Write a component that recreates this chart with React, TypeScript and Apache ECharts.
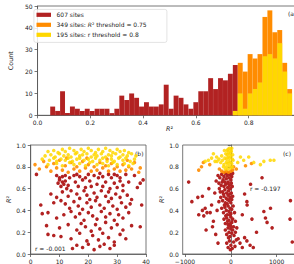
import React, { useEffect, useRef } from "react";
import * as echarts from "echarts";

// ---------- Data ----------
const histBinStart = 0.048;
const histBinWidth = 0.0187;
// all 607 sites, bins 0..37
const allSitesCounts = [4, 2, 11, 1, 4, 3, 2, 3, 2, 3, 3, 3, 1, 3, 9, 7, 10, 8, 4, 6, 4, 4, 5, 14, 3, 9, 8, 5, 3, 6, 11, 11, 17, 12, 17, 16, 19, 23];
// 349 sites (R2 > 0.75), starting at bin 38
const r2FirstBin = 38;
const r2ThresholdCounts = [24, 20, 28, 26, 28, 45, 48, 38, 39, 24, 12];
// 195 sites (r > 0.8), starting at bin 37
const rFirstBin = 37;
const rThresholdCounts = [2, 10, 3, 10, 12, 15, 27, 28, 26, 33, 20, 10];

const histXTicks = [0, 0.2, 0.4, 0.6, 0.8];
const countTicks = [0, 10, 20, 30, 40, 50];

// panel (b): x variable vs R2
const bRed: number[][] = [
  [2, 0.73], [9, 0.72], [10, 0.7], [11, 0.71], [12, 0.72], [13.5, 0.7], [15, 0.72], [16, 0.73], [17, 0.71], [19, 0.7], [20, 0.73], [22, 0.72], [23.5, 0.7], [24, 0.74], [25, 0.71], [27, 0.73], [28, 0.7], [29, 0.73], [30, 0.72], [31, 0.7], [33, 0.73], [36, 0.72], [39, 0.68],
  [9.5, 0.65], [10, 0.68], [10.5, 0.62], [11, 0.66], [11.5, 0.64], [12, 0.67], [12.5, 0.6], [13, 0.63], [15.5, 0.66], [16.5, 0.62], [18, 0.68], [19, 0.61], [20.5, 0.67], [21, 0.62], [23, 0.64], [25, 0.62], [26, 0.66], [27.5, 0.6], [29, 0.65], [30, 0.61], [31, 0.67], [32, 0.63], [34, 0.66], [37, 0.61], [38, 0.65],
  [7, 0.55], [9, 0.52], [11, 0.57], [13, 0.53], [14, 0.58], [16, 0.55], [17, 0.51], [18.5, 0.58], [19.5, 0.54], [20.5, 0.5], [22, 0.56], [23, 0.52], [24.5, 0.58], [26, 0.53], [27, 0.57], [28, 0.51], [29.5, 0.55], [31, 0.52], [32, 0.58], [33.5, 0.54], [35, 0.5],
  [3.5, 0.45], [8, 0.47], [10.5, 0.49], [12, 0.46], [13.5, 0.42], [15, 0.48], [16.5, 0.44], [18, 0.41], [19.5, 0.47], [21, 0.43], [22.5, 0.49], [24, 0.45], [25.5, 0.42], [27, 0.48], [28.5, 0.44], [30, 0.41], [31.5, 0.47], [33, 0.43], [34.5, 0.46], [38.5, 0.45],
  [4, 0.37], [6, 0.38], [9, 0.33], [11.5, 0.36], [14, 0.39], [15.5, 0.34], [17, 0.37], [18.5, 0.31], [20, 0.38], [21.5, 0.35], [23, 0.32], [24.5, 0.39], [26, 0.34], [27.5, 0.37], [29, 0.31], [30.5, 0.36], [32, 0.33], [34, 0.38],
  [5.5, 0.26], [10, 0.24], [13, 0.27], [16, 0.22], [17.5, 0.28], [19, 0.25], [21, 0.21], [22.5, 0.27], [24, 0.23], [26, 0.29], [28, 0.24], [30, 0.27], [32, 0.22], [35, 0.26], [38, 0.25],
  [6, 0.18], [8, 0.17], [10.5, 0.16], [14, 0.14], [17, 0.19], [19.5, 0.12], [21.5, 0.17], [23.5, 0.13], [25, 0.19], [27, 0.15], [29, 0.11], [31, 0.18], [33, 0.14],
  [14.5, 0.05], [16, 0.08], [18, 0.06], [20, 0.09], [22, 0.04], [24, 0.07], [25.5, 0.09], [27.5, 0.05], [29, 0.08],
];
const bOrange: number[][] = [
  [1.5, 0.82], [3, 0.78], [4.5, 0.85], [5.5, 0.8], [7, 0.76], [8, 0.83], [9, 0.79], [10, 0.86], [11, 0.77], [12, 0.81], [13, 0.75], [14, 0.84], [15, 0.78], [16, 0.8], [17, 0.76], [18, 0.85], [19, 0.79], [20, 0.82], [21, 0.76], [22, 0.8], [23, 0.77], [24, 0.84], [25, 0.79], [26, 0.81], [27, 0.76], [28, 0.83], [29, 0.78], [30, 0.8], [31, 0.76], [32, 0.82], [33, 0.77], [34, 0.8], [35, 0.78], [36, 0.84], [37.5, 0.75], [38, 0.79], [12.5, 0.88], [19.5, 0.88], [26.5, 0.87], [33.5, 0.86],
];
const bYellow: number[][] = [
  [6, 0.94], [8, 0.95], [9.5, 0.93], [11, 0.96], [12, 0.94], [13.5, 0.97], [15, 0.95], [16, 0.93], [17.5, 0.96], [18.5, 0.94], [20, 0.97], [21, 0.95], [22.5, 0.93], [23.5, 0.96], [25, 0.94], [26, 0.97], [27.5, 0.95], [28.5, 0.93], [30, 0.96], [31, 0.94], [32.5, 0.95], [34, 0.93],
  [5, 0.9], [7, 0.91], [8.5, 0.89], [10, 0.92], [11.5, 0.9], [13, 0.91], [14, 0.89], [15.5, 0.92], [17, 0.9], [18, 0.91], [19.5, 0.92], [21, 0.89], [22, 0.91], [23, 0.9], [24.5, 0.92], [26, 0.89], [27, 0.91], [28, 0.9], [29.5, 0.92], [31, 0.89], [32, 0.91], [33.5, 0.9], [35, 0.92], [36.5, 0.9],
  [4, 0.87], [6.5, 0.86], [8, 0.88], [9, 0.85], [10.5, 0.87], [12, 0.86], [13, 0.88], [14.5, 0.85], [16, 0.87], [17, 0.88], [18.5, 0.86], [20, 0.87], [21.5, 0.85], [22.5, 0.88], [24, 0.86], [25, 0.88], [26.5, 0.85], [28, 0.87], [29, 0.85], [30.5, 0.88], [32, 0.86], [33, 0.88], [34.5, 0.85], [36, 0.87],
  [6, 0.82], [9, 0.83], [11, 0.81], [13.5, 0.84], [15, 0.82], [17, 0.83], [19, 0.81], [20.5, 0.84], [23, 0.82], [25, 0.83], [27, 0.81], [28.5, 0.84], [30, 0.82], [32.5, 0.83], [34, 0.81], [35.5, 0.83],
];

// panel (c)
const cRed: number[][] = [
  [-280, 0.72], [-240, 0.7], [-200, 0.73], [-170, 0.68], [-150, 0.71], [-120, 0.74], [-100, 0.69], [-80, 0.72], [-60, 0.66], [-40, 0.7], [-20, 0.73], [0, 0.68], [20, 0.71], [40, 0.74], [-320, 0.67], [-260, 0.65], [-130, 0.66], [-50, 0.74], [10, 0.65], [-190, 0.66],
  [-250, 0.6], [-210, 0.63], [-180, 0.57], [-150, 0.62], [-130, 0.59], [-110, 0.64], [-90, 0.56], [-70, 0.61], [-50, 0.58], [-30, 0.63], [-10, 0.6], [10, 0.56], [30, 0.62], [-160, 0.55], [-60, 0.65], [-230, 0.57], [-20, 0.55],
  [-220, 0.52], [-180, 0.49], [-150, 0.53], [-120, 0.47], [-100, 0.51], [-80, 0.46], [-60, 0.54], [-40, 0.49], [-20, 0.52], [0, 0.47], [20, 0.5], [-140, 0.45], [-70, 0.5], [40, 0.53], [-260, 0.48],
  [-200, 0.42], [-160, 0.38], [-130, 0.43], [-100, 0.4], [-80, 0.36], [-60, 0.44], [-40, 0.39], [-20, 0.42], [0, 0.37], [20, 0.41], [50, 0.44], [-110, 0.35], [-30, 0.36], [80, 0.38],
  [-150, 0.32], [-120, 0.28], [-90, 0.33], [-60, 0.27], [-40, 0.31], [-20, 0.26], [0, 0.34], [20, 0.29], [40, 0.32], [60, 0.25], [-70, 0.3], [100, 0.3], [-10, 0.28],
  [-120, 0.22], [-90, 0.18], [-60, 0.24], [-40, 0.2], [-20, 0.16], [0, 0.23], [20, 0.19], [40, 0.22], [70, 0.17], [100, 0.2], [-50, 0.15], [130, 0.24], [10, 0.25],
  [-90, 0.1], [-60, 0.06], [-30, 0.12], [0, 0.08], [30, 0.05], [60, 0.11], [90, 0.07], [120, 0.13], [-10, 0.04], [200, 0.1], [250, 0.06], [350, 0.12], [420, 0.08], [490, 0.06], [160, 0.14], [300, 0.15],
  [-920, 0.66], [-850, 0.48], [-720, 0.52], [-620, 0.53], [-560, 0.42], [-520, 0.38], [-590, 0.35], [-540, 0.22], [-450, 0.38], [-380, 0.3], [-420, 0.45], [-350, 0.56], [-480, 0.6], [-400, 0.25], [-620, 0.4], [-700, 0.36], [-300, 0.4], [-330, 0.18], [-280, 0.1],
  [430, 0.64], [350, 0.48], [355, 0.45], [460, 0.32], [720, 0.39], [755, 0.33], [865, 0.42], [790, 0.29], [900, 0.24], [1300, 0.49], [1290, 0.32], [1340, 0.11], [680, 0.7], [300, 0.55], [250, 0.36], [560, 0.2],
];
const cOrange: number[][] = [
  [-700, 0.77], [-640, 0.8], [-200, 0.76], [-150, 0.75], [-100, 0.76], [-50, 0.75], [0, 0.76], [40, 0.77], [-250, 0.78], [60, 0.8], [120, 0.78], [450, 0.83], [-460, 0.82], [-600, 0.84], [320, 0.81],
];
const cYellow: number[][] = [
  [-120, 0.78], [-90, 0.8], [-60, 0.78], [-30, 0.81], [0, 0.79], [30, 0.8], [-100, 0.84], [-70, 0.83], [-40, 0.85], [-10, 0.84], [20, 0.83], [50, 0.86], [-130, 0.88], [-90, 0.87], [-60, 0.89], [-30, 0.88], [0, 0.9], [30, 0.87], [-110, 0.92], [-80, 0.91], [-50, 0.93], [-20, 0.92], [10, 0.94], [40, 0.91], [-60, 0.96], [-30, 0.97], [0, 0.95], [-80, 0.95], [-150, 0.82], [-180, 0.86], [-220, 0.84], [-260, 0.87], [-300, 0.85], [-200, 0.9], [-160, 0.8], [20, 0.97], [-140, 0.95],
  [-560, 0.85], [-490, 0.86], [-420, 0.88], [-345, 0.85], [-310, 0.89], [-380, 0.92], [210, 0.89], [280, 0.86], [390, 0.89], [500, 0.84], [645, 0.82], [720, 0.85], [860, 0.86], [940, 0.86], [150, 0.84],
];
const cXTicks = [-1000, 0, 1000];
const r2Ticks = [0, 0.2, 0.4, 0.6, 0.8, 1.0];
const bXTicks = [0, 10, 20, 30, 40];

const RED = "#b22222";
const ORANGE = "#ff8c00";
const YELLOW = "#ffd700";
const FONT = "DejaVu Sans";
const FS = 6;
const AX = "#555";

function histData(counts: number[], first: number) {
  return counts.map((c, i) => [
    histBinStart + (first + i) * histBinWidth,
    histBinStart + (first + i + 1) * histBinWidth,
    c,
  ]);
}

function rectRender(color: string) {
  return (params: any, api: any) => {
    const p0 = api.coord([api.value(0), api.value(2)]);
    const p1 = api.coord([api.value(1), 0]);
    return {
      type: "rect",
      shape: { x: p0[0], y: p0[1], width: p1[0] - p0[0], height: p1[1] - p0[1] },
      style: { fill: color, stroke: "rgba(255,255,255,0.12)", lineWidth: 0.3 },
    };
  };
}

const labelStyle = { fontFamily: FONT, fontSize: FS, color: "#222" };
const nameStyle = {
  fontFamily: FONT,
  fontSize: 6.4,
  color: "#222",
  rich: { i: { fontFamily: FONT, fontSize: 6.4, fontStyle: "italic", color: "#222" } },
};
const lineStyle = { lineStyle: { color: AX, width: 0.8 } };
const tickStyle = { show: true, length: 3, lineStyle: { color: AX, width: 0.8 } };

export default function App() {
  const ref = useRef<HTMLDivElement>(null);
  useEffect(() => {
    if (!ref.current) return;
    const chart = echarts.init(ref.current, null, { renderer: "svg" });
    const scatter = (data: number[][], color: string, idx: number, opacity = 1) => ({
      type: "scatter",
      xAxisIndex: idx,
      yAxisIndex: idx,
      data,
      symbol: "circle",
      symbolSize: 3.6,
      itemStyle: { color, opacity },
      silent: true,
    });
    chart.setOption({
      animation: false,
      textStyle: { fontFamily: FONT },
      grid: [
        { left: 30.5, top: 6, width: 271, height: 109.3, show: true, borderColor: AX, borderWidth: 0.8 },
        { left: 30.7, top: 145, width: 115.3, height: 110, show: true, borderColor: AX, borderWidth: 0.8 },
        { left: 182.7, top: 145, width: 116, height: 110, show: true, borderColor: AX, borderWidth: 0.8 },
      ],
      xAxis: [
        {
          type: "value", gridIndex: 0, min: 0, max: 1.0, interval: 0.2,
          axisLine: lineStyle, axisTick: { ...tickStyle, customValues: histXTicks }, splitLine: { show: false },
          axisLabel: { ...labelStyle, margin: 4, formatter: (v: number) => v.toFixed(1), customValues: histXTicks },
          name: "{i|R}²", nameLocation: "middle", nameGap: 9, nameTextStyle: nameStyle,
        },
        {
          type: "value", gridIndex: 1, min: 0, max: 40, interval: 10,
          axisLine: lineStyle, axisTick: tickStyle, splitLine: { show: false },
          axisLabel: { ...labelStyle, margin: 4, customValues: bXTicks },
        },
        {
          type: "value", gridIndex: 2, min: -1050, max: 1480,
          axisLine: lineStyle,
          axisTick: { ...tickStyle, customValues: cXTicks },
          splitLine: { show: false },
          axisLabel: { ...labelStyle, margin: 4, customValues: cXTicks, formatter: (v: number) => String(v).replace("-", "\u2212") },
        },
      ],
      yAxis: [
        {
          type: "value", gridIndex: 0, min: 0, max: 50, interval: 10,
          axisLine: { show: true, ...lineStyle }, axisTick: tickStyle, splitLine: { show: false },
          axisLabel: { ...labelStyle, margin: 5, customValues: countTicks },
          name: "Count", nameLocation: "middle", nameGap: 15, nameTextStyle: nameStyle,
        },
        {
          type: "value", gridIndex: 1, min: 0, max: 1.0, interval: 0.2,
          axisLine: { show: true, ...lineStyle }, axisTick: tickStyle, splitLine: { show: false },
          axisLabel: { ...labelStyle, margin: 5, formatter: (v: number) => v.toFixed(1), customValues: r2Ticks },
          name: "{i|R}²", nameLocation: "middle", nameGap: 19, nameTextStyle: nameStyle,
        },
        {
          type: "value", gridIndex: 2, min: 0, max: 1.0, interval: 0.2,
          axisLine: { show: true, ...lineStyle }, axisTick: tickStyle, splitLine: { show: false },
          axisLabel: { ...labelStyle, margin: 4, formatter: (v: number) => v.toFixed(1), customValues: r2Ticks },
          name: "{i|R}²", nameLocation: "middle", nameGap: 17, nameTextStyle: nameStyle,
        },
      ],
      series: [
        {
          type: "custom", name: "607 sites", xAxisIndex: 0, yAxisIndex: 0,
          data: histData(allSitesCounts, 0), encode: { x: [0, 1], y: 2 },
          renderItem: rectRender(RED), silent: true,
        },
        {
          type: "custom", name: "349 sites", xAxisIndex: 0, yAxisIndex: 0,
          data: histData(r2ThresholdCounts, r2FirstBin), encode: { x: [0, 1], y: 2 },
          renderItem: rectRender(ORANGE), silent: true,
        },
        {
          type: "custom", name: "195 sites", xAxisIndex: 0, yAxisIndex: 0,
          data: histData(rThresholdCounts, rFirstBin), encode: { x: [0, 1], y: 2 },
          renderItem: rectRender(YELLOW), silent: true,
        },
        scatter(bRed, RED, 1),
        scatter(bOrange, ORANGE, 1, 0.9),
        scatter(bYellow, YELLOW, 1, 0.85),
        scatter(cRed, RED, 2),
        scatter(cOrange, ORANGE, 2, 0.9),
        scatter(cYellow, YELLOW, 2, 0.85),
      ],
      graphic: [
        {
          type: "rect", left: 33.5, top: 9, shape: { width: 133, height: 33, r: 2 },
          style: { fill: "rgba(255,255,255,0.85)", stroke: "#dcdcdc", lineWidth: 0.8 }, z: 100,
        },
        { type: "rect", shape: { x: 36.5, y: 12.7, width: 14.5, height: 4.2 }, style: { fill: RED }, z: 101 },
        { type: "rect", shape: { x: 36.5, y: 22.7, width: 14.5, height: 4.2 }, style: { fill: ORANGE }, z: 101 },
        { type: "rect", shape: { x: 36.5, y: 32.7, width: 14.5, height: 4.2 }, style: { fill: YELLOW }, z: 101 },
        {
          type: "text", x: 56.5, y: 14.8, z: 101,
          style: { text: "607 sites", fontFamily: FONT, fontSize: FS, fill: "#222", verticalAlign: "middle" },
        },
        {
          type: "text", x: 56.5, y: 24.8, z: 101,
          style: {
            text: "349 sites: {i|R}² threshold = 0.75", fontFamily: FONT, fontSize: FS, fill: "#222", verticalAlign: "middle",
            rich: { i: { fontFamily: FONT, fontSize: FS, fontStyle: "italic", fill: "#222" } },
          },
        },
        {
          type: "text", x: 56.5, y: 34.8, z: 101,
          style: { text: "195 sites: r threshold = 0.8", fontFamily: FONT, fontSize: FS, fill: "#222", verticalAlign: "middle" },
        },
        { type: "text", x: 288, y: 13, style: { text: "(a)", fontFamily: FONT, fontSize: FS, fill: "#222", verticalAlign: "middle" } },
        { type: "text", x: 135, y: 153, style: { text: "(b)", fontFamily: FONT, fontSize: FS, fill: "#222", verticalAlign: "middle" } },
        { type: "text", x: 35, y: 248, style: { text: "r = -0.001", fontFamily: FONT, fontSize: FS, fill: "#222", verticalAlign: "middle" } },
        { type: "text", x: 283, y: 153, style: { text: "(c)", fontFamily: FONT, fontSize: FS, fill: "#222", verticalAlign: "middle" } },
        { type: "text", x: 250, y: 188, style: { text: "r = -0.197", fontFamily: FONT, fontSize: FS, fill: "#222", verticalAlign: "middle" } },
      ],
    });
    return () => chart.dispose();
  }, []);
  return (
    <div style={{ position: "fixed", left: 0, top: 0, width: 294, height: 264, overflow: "hidden", background: "#fff" }}>
      <div ref={ref} style={{ width: 310, height: 264 }} />
    </div>
  );
}
